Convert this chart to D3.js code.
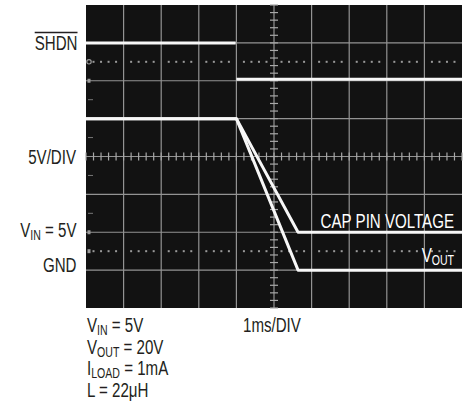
<!DOCTYPE html>
<html>
<head>
<meta charset="utf-8">
<script src="https://cdn.jsdelivr.net/npm/d3@7"></script>
<style>
  html, body { margin: 0; padding: 0; background: #fff; }
  svg { display: block; }
</style>
</head>
<body>
<svg id="chart" width="470" height="401"></svg>
<script>
// ---- data (time in ms, 1ms/DIV; voltage in V, 5V/DIV) ----
const timeTicks = [0, 1, 2, 3, 4, 5, 6, 7, 8, 9, 10];
const voltTicks = [-5, 0, 5, 10, 15, 20, 25, 30, 35];
const dottedRefs = [2.5, 27.5];           // dotted reference rows
const shdnOffset = 25;                    // channel 1 ground position (V on plot scale)
const shdnTime  = [0, 3.98, 3.99, 4.0, 10];
const shdnVolts = [5, 5, null, 0.2, 0.2];
const voutTime  = [0, 4.0, 5.64, 10];
const voutVolts = [20, 20, 0, 0];
const capTime   = [0, 4.0, 5.64, 10];
const capVolts  = [20, 20, 5, 5];

const svg = d3.select("#chart");
const L = 86, R = 462, T = 5, B = 308;
const x = d3.scaleLinear().domain([0, 10]).range([L, R]);
const y = d3.scaleLinear().domain([-5, 35]).range([B, T]);

// scope screen
svg.append("rect").attr("x", L).attr("y", T).attr("width", R - L).attr("height", B - T)
  .attr("fill", "#121212");

const grid = svg.append("g").attr("stroke", "#939393").attr("stroke-width", 1.2);
timeTicks.slice(1, -1).forEach(t => {
  grid.append("line").attr("x1", x(t)).attr("x2", x(t)).attr("y1", T).attr("y2", B);
});
voltTicks.slice(1, -1).forEach(v => {
  grid.append("line").attr("x1", L).attr("x2", R).attr("y1", y(v)).attr("y2", y(v));
});

// minor ticks on the centre cross
const minor = svg.append("g").attr("stroke", "#a8a8a8").attr("stroke-width", 1.2);
const xc = x(5), yc = y(15);
d3.range(0, 10.001, 0.2).forEach(t => {
  minor.append("line").attr("x1", x(t)).attr("x2", x(t)).attr("y1", yc - 4).attr("y2", yc + 4);
});
d3.range(-5, 35.001, 1).forEach(v => {
  minor.append("line").attr("x1", xc - 4).attr("x2", xc + 4).attr("y1", y(v)).attr("y2", y(v));
});

// dotted reference rows
dottedRefs.forEach(v => {
  d3.range(0, 10, 0.2).forEach(t => {
    if (Math.abs(t - Math.round(t)) < 1e-6) return;
    svg.append("rect").attr("x", x(t) - 1).attr("y", y(v) - 1).attr("width", 2).attr("height", 2)
      .attr("fill", "#9a9a9a");
  });
});

// left-edge channel markers
[[27.5, "c"], [25, "r"], [5, "r"], [2.5, "r"]].forEach(([v, k]) => {
  if (k === "c") {
    svg.append("circle").attr("cx", x(0) + 3).attr("cy", y(v)).attr("r", 2.2)
      .attr("fill", "none").attr("stroke", "#9a9a9a").attr("stroke-width", 1.2);
  } else {
    svg.append("rect").attr("x", x(0) + 1.5).attr("y", y(v) - 2).attr("width", 3).attr("height", 4)
      .attr("fill", "#9a9a9a");
  }
});
[22.5, 17.5, 12.5, 7.5].forEach(v => {
  svg.append("line").attr("x1", x(0) + 2).attr("x2", x(0) + 7).attr("y1", y(v)).attr("y2", y(v))
    .attr("stroke", "#777").attr("stroke-width", 1);
});

// traces
const line = d3.line().defined(d => d[1] != null).x(d => x(d[0])).y(d => y(d[1]));
const shdnPts = shdnTime.map((t, i) => [t, shdnVolts[i] == null ? null : shdnVolts[i] + shdnOffset]);
const voutPts = voutTime.map((t, i) => [t, voutVolts[i]]);
const capPts = capTime.map((t, i) => [t, capVolts[i]]);
[shdnPts, voutPts, capPts].forEach(p => {
  svg.append("path").attr("d", line(p)).attr("fill", "none")
    .attr("stroke", "#f7f7f7").attr("stroke-width", 3).attr("stroke-linejoin", "round");
});

// text helpers
const FONT = "'Liberation Sans', Arial, sans-serif";
const SX = 0.755;
function label(px, py, parts, anchor, color) {
  const g = svg.append("g").attr("transform", `translate(${px},${py}) scale(${SX},1)`);
  const t = g.append("text").attr("x", 0).attr("y", 0).attr("text-anchor", anchor)
    .attr("font-family", FONT).attr("font-size", 20).attr("fill", color);
  let shift = 0;
  parts.forEach(p => {
    if (typeof p === "string") {
      const s = t.append("tspan").text(p);
      if (shift) { s.attr("dy", -shift); shift = 0; }
    } else {
      t.append("tspan").attr("font-size", 14).attr("dy", 3).text(p.sub);
      shift = 3;
    }
  });
  return t;
}
const INK = "#231f20";

const shdn = label(77.5, 50, ["SHDN"], "end", INK);
const bb = shdn.node().getBBox();
svg.append("line").attr("x1", 77.5 + bb.x * SX).attr("x2", 77.5 + (bb.x + bb.width) * SX)
  .attr("y1", 32.5).attr("y2", 32.5).attr("stroke", INK).attr("stroke-width", 1.3);

label(76, 164, ["5V/DIV"], "end", INK);
label(76.5, 236.5, ["V", {sub: "IN"}, " = 5V"], "end", INK);
label(76.5, 271.5, ["GND"], "end", INK);

label(454, 228, ["CAP PIN VOLTAGE"], "end", "#ffffff");
label(454, 261.5, ["V", {sub: "OUT"}], "end", "#ffffff");

label(87, 332, ["V", {sub: "IN"}, " = 5V"], "start", INK);
label(87, 353.5, ["V", {sub: "OUT"}, " = 20V"], "start", INK);
label(87, 375, ["I", {sub: "LOAD"}, " = 1mA"], "start", INK);
label(87, 396.5, ["L = 22\u03bcH"], "start", INK);

label(243, 332, ["1ms/DIV"], "start", INK);
</script>
</body>
</html>
